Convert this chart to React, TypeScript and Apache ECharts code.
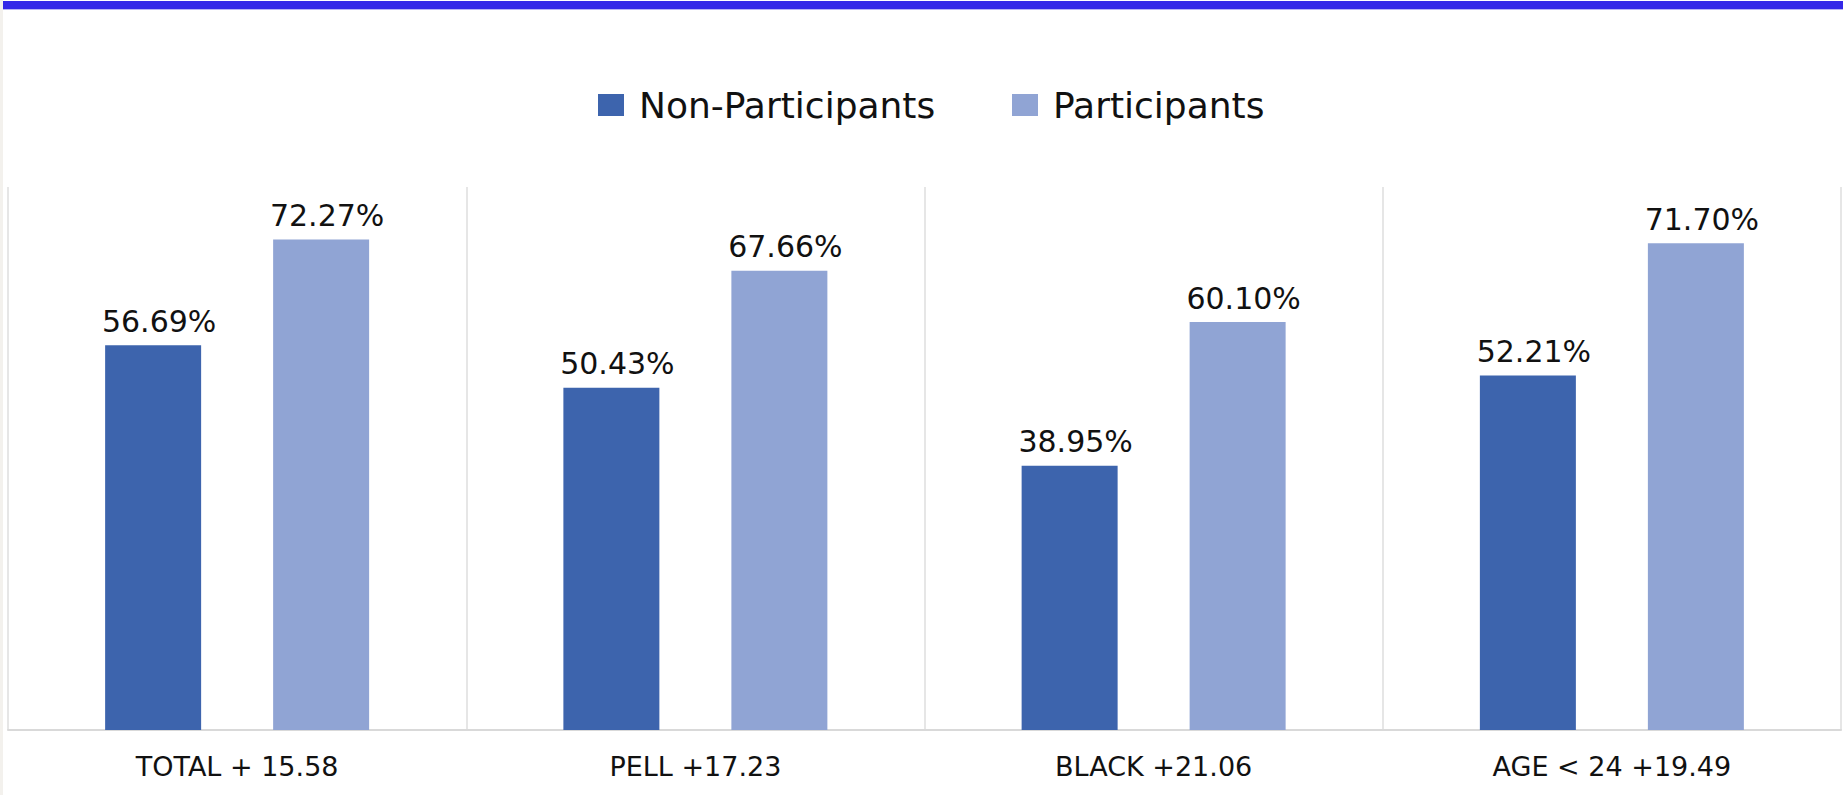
import React, { useEffect, useRef } from "react";
import * as echarts from "echarts";

const categories = ["TOTAL + 15.58", "PELL +17.23", "BLACK +21.06", "AGE < 24 +19.49"];
const nonParticipants = [56.69, 50.43, 38.95, 52.21];
const participants = [72.27, 67.66, 60.1, 71.7];
const seriesNames = ["Non-Participants", "Participants"];

const FONT = "DejaVu Sans";
const DARK = "#3d64ad";
const LIGHT = "#90a4d4";

export default function App() {
  const ref = useRef<HTMLDivElement>(null);

  useEffect(() => {
    document.body.style.margin = "0";
    const chart = echarts.init(ref.current!, null, { renderer: "svg" });
    const valueLabel = {
      show: true,
      position: "top" as const,
      distance: 9,
      fontFamily: FONT,
      fontSize: 30,
      color: "#111",
      offset: [6, 0],
      formatter: (p: any) => `${Number(p.value).toFixed(2)}%`,
    };
    const legendText = { fontFamily: FONT, fontSize: 36, color: "#111", padding: [0, 0, 0, 10] };
    chart.setOption({
      animation: false,
      backgroundColor: "#ffffff",
      graphic: [
        { type: "rect", shape: { x: 0, y: 0, width: 3, height: 795 }, style: { fill: "#f3f1ed" }, z: 10 },
        { type: "rect", shape: { x: 3, y: 1, width: 1840, height: 8 }, style: { fill: "#3428e8" }, z: 10 },
        { type: "rect", shape: { x: 3, y: 9, width: 1840, height: 1 }, style: { fill: "#b9b4f4" }, z: 10 },
      ],
      legend: [
        {
          data: [seriesNames[0]],
          left: 593,
          top: 82,
          itemWidth: 26,
          itemHeight: 22,
          icon: "rect",
          textStyle: legendText,
        },
        {
          data: [seriesNames[1]],
          left: 1007,
          top: 82,
          itemWidth: 26,
          itemHeight: 22,
          icon: "rect",
          textStyle: legendText,
        },
      ],
      grid: { left: 8, right: 2, top: 187, bottom: 65, containLabel: false },
      xAxis: {
        type: "category",
        data: categories,
        boundaryGap: true,
        axisLine: { show: true, lineStyle: { color: "#d9d9d9", width: 2 } },
        axisTick: { show: false },
        splitLine: { show: true, lineStyle: { color: "#e6e6e6", width: 2 } },
        axisLabel: { fontFamily: FONT, fontSize: 27, color: "#111", margin: 23 },
      },
      yAxis: {
        type: "value",
        min: 0,
        max: 80,
        show: false,
        splitLine: { show: false },
      },
      series: [
        {
          name: seriesNames[0],
          type: "bar",
          data: nonParticipants,
          barWidth: 96,
          barGap: "75%",
          itemStyle: { color: DARK },
          label: valueLabel,
        },
        {
          name: seriesNames[1],
          type: "bar",
          data: participants,
          barWidth: 96,
          barGap: "75%",
          itemStyle: { color: LIGHT },
          label: valueLabel,
        },
      ],
    });
    return () => chart.dispose();
  }, []);

  return <div ref={ref} style={{ width: 1843, height: 795 }} />;
}
